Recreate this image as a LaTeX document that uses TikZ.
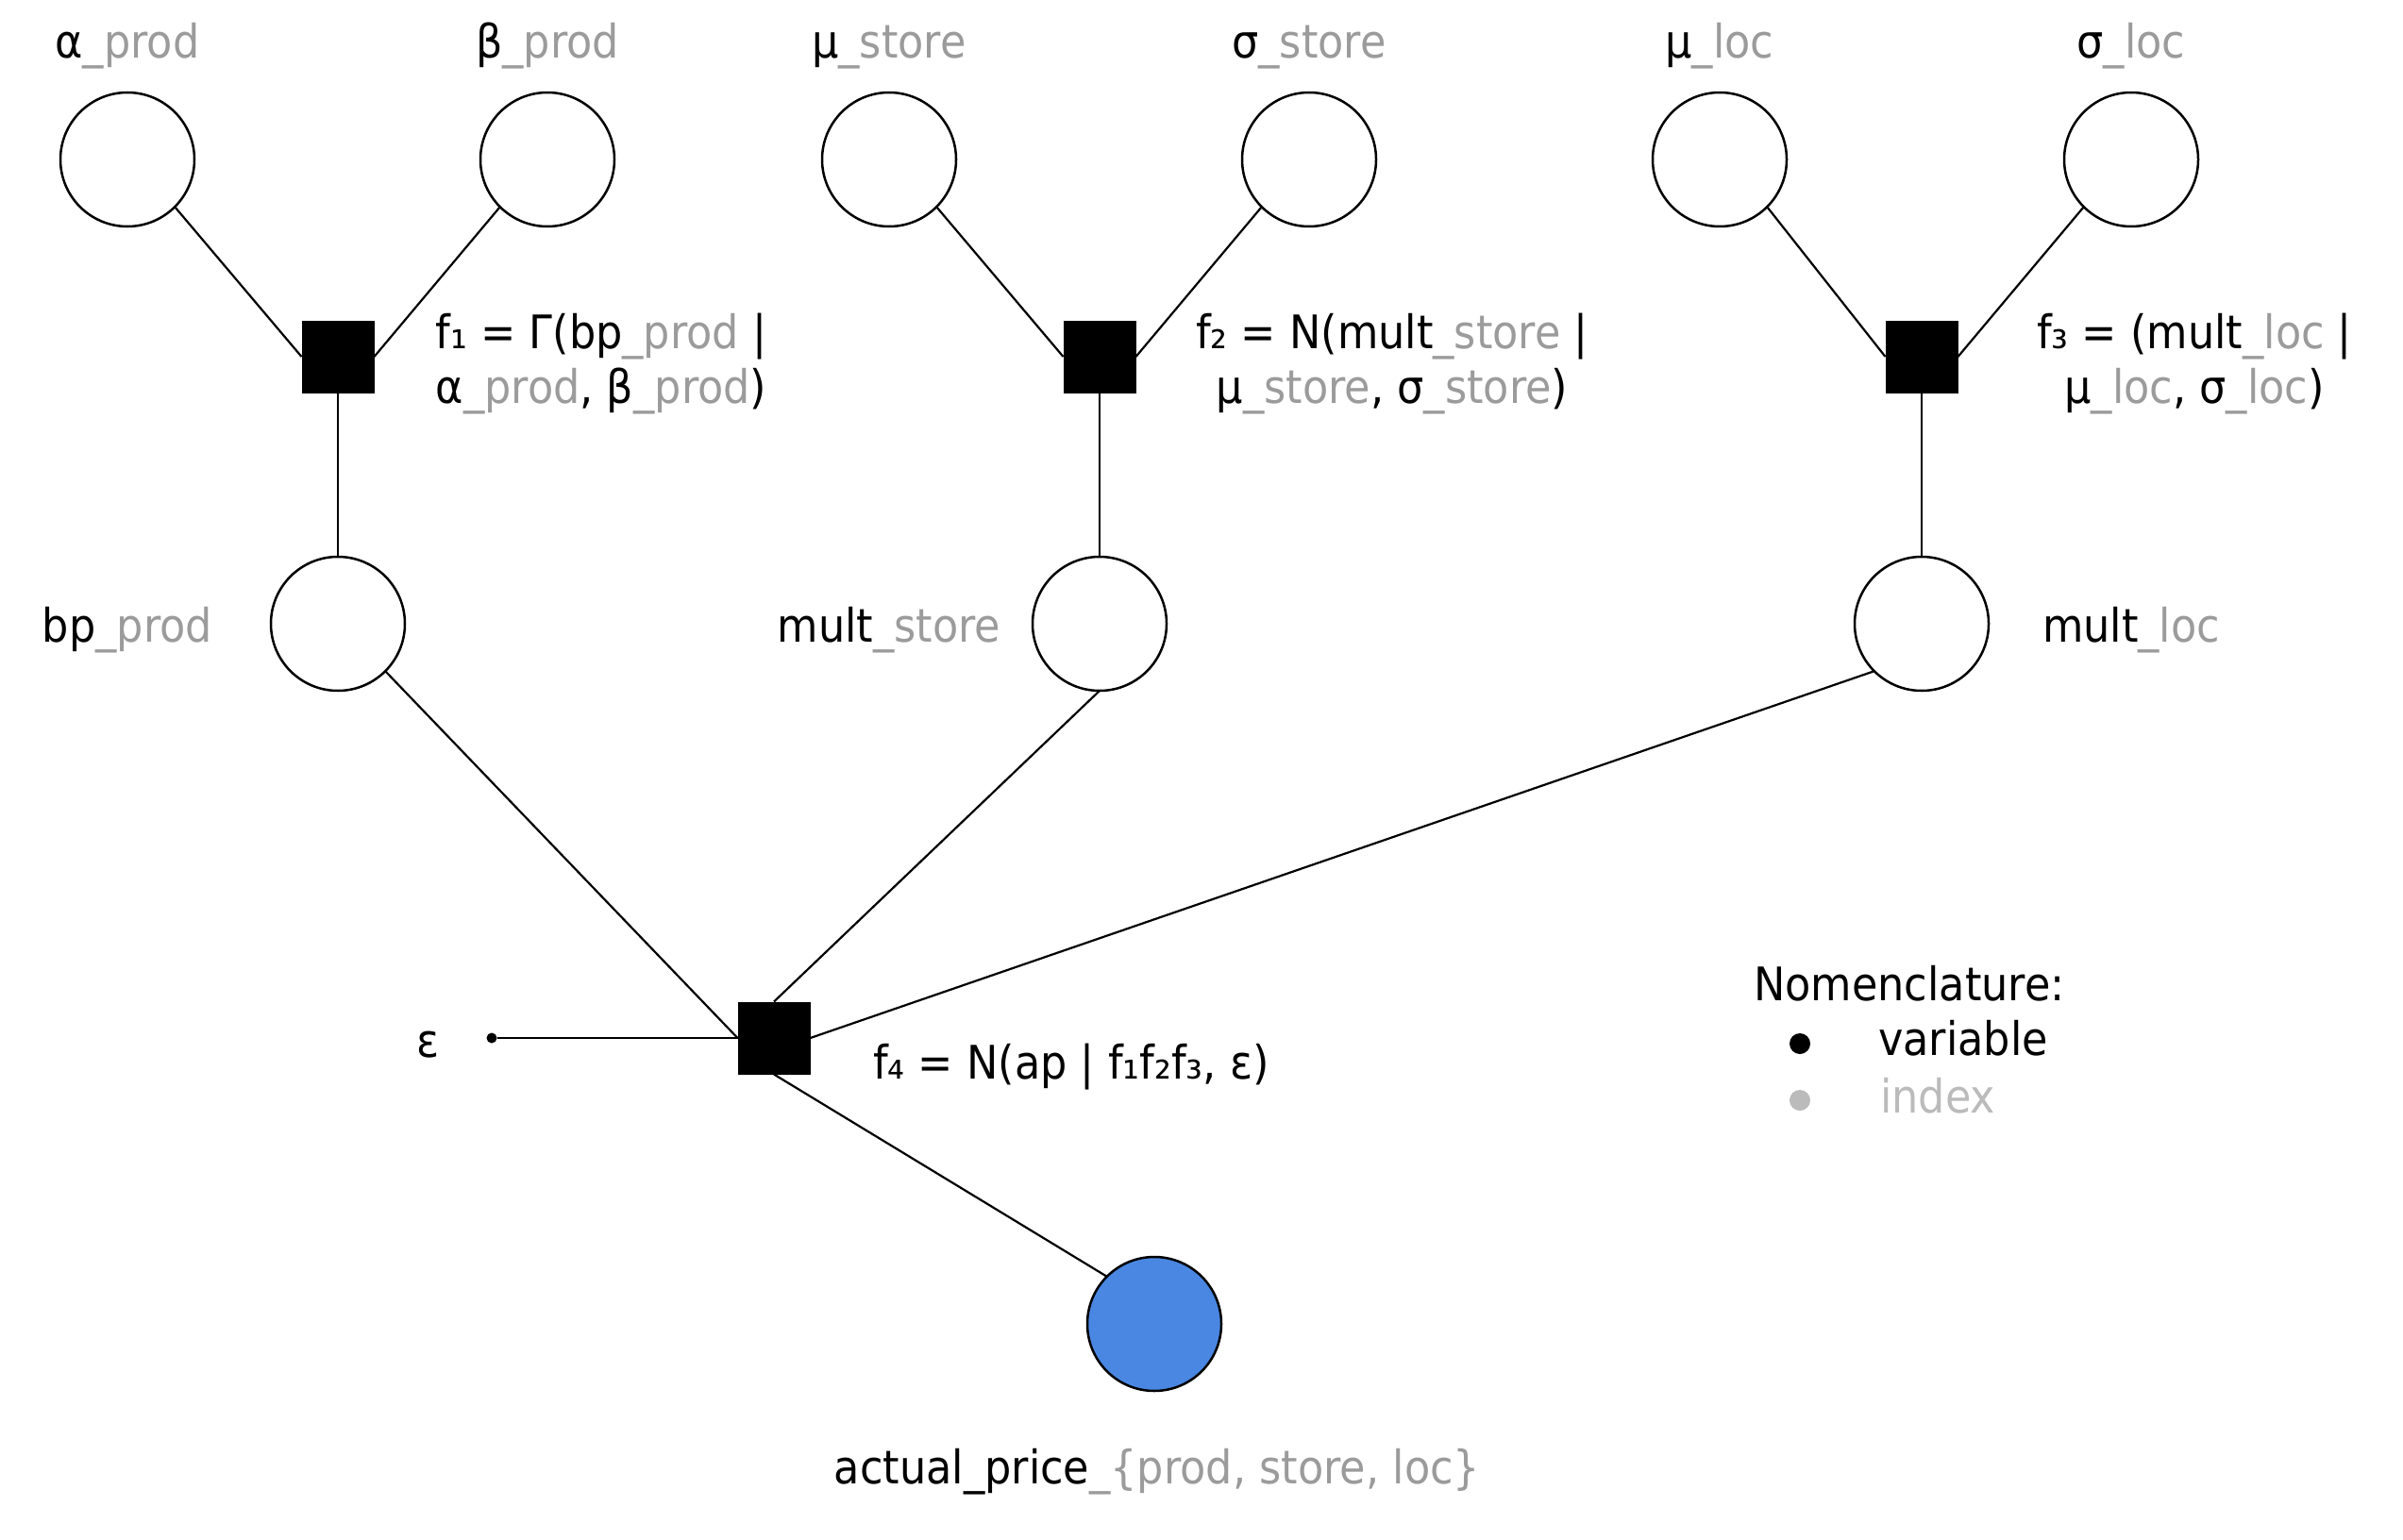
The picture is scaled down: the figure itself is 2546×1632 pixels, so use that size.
\documentclass[tikz,border=0pt]{standalone}
\usepackage{fontspec}
\setmainfont{DejaVu Sans}[FakeStretch=0.91]
\definecolor{idx}{RGB}{155,155,155}
\definecolor{idxlight}{RGB}{187,187,187}
\definecolor{obs}{RGB}{74,135,226}
\newcommand\gry[1]{\textcolor{idx}{#1}}
\begin{document}
\begin{tikzpicture}[x=1pt,y=-1pt,
  every node/.style={inner sep=0pt, outer sep=0pt},
  var/.style={circle, draw, line width=2.5pt, minimum size=142pt, fill=white},
  fac/.style={rectangle, fill=black, minimum size=77pt},
  obsvar/.style={var, fill=obs},
  lbl/.style={font=\fontsize{49}{58}\selectfont, anchor=base},
  link/.style={line width=2.2pt},
  bul/.style={circle, minimum size=22pt},
]
\path[use as bounding box] (0,0) rectangle (2546,1632);

% variables
\node[var] (aprod) at (135,169) {};
\node[var] (bprod) at (580,169) {};
\node[var] (mustore) at (942,169) {};
\node[var] (sgstore) at (1387,169) {};
\node[var] (muloc) at (1822,169) {};
\node[var] (sgloc) at (2258,169) {};
\node[fac] (f1) at (358,378) {};
\node[fac] (f2) at (1165,378) {};
\node[fac] (f3) at (2036,378) {};
\node[var] (bp) at (358,661) {};
\node[var] (mstore) at (1165,661) {};
\node[var] (mloc) at (2036,661) {};
\node[fac] (f4) at (820,1100) {};
\node[obsvar] (ap) at (1223,1403) {};
\node[circle, fill=black, minimum size=11pt] (eps) at (521,1100) {};

% labels
\node[lbl] (laprod) at (135,62) {α\gry{\_prod}};
\node[lbl] (lbprod) at (580,62) {β\gry{\_prod}};
\node[lbl] (lmustore) at (942,62) {μ\gry{\_store}};
\node[lbl] (lsgstore) at (1387,62) {σ\gry{\_store}};
\node[lbl] (lmuloc) at (1822,62) {μ\gry{\_loc}};
\node[lbl] (lsgloc) at (2258,62) {σ\gry{\_loc}};

\node[lbl, align=center] (lf1) at (637,427) {f₁ = Γ(bp\gry{\_prod} |\\α\gry{\_prod}, β\gry{\_prod})};
\node[lbl, align=center] (lf2) at (1475,427) {f₂ = N(mult\gry{\_store} |\\μ\gry{\_store}, σ\gry{\_store})};
\node[lbl, align=center] (lf3) at (2325,427) {f₃ = (mult\gry{\_loc} |\\μ\gry{\_loc}, σ\gry{\_loc})};

\node[lbl] (lbp) at (135,680) {bp\gry{\_prod}};
\node[lbl] (lmstore) at (942,680) {mult\gry{\_store}};
\node[lbl] (lmloc) at (2258,680) {mult\gry{\_loc}};

\node[lbl] (leps) at (454,1120) {ε};
\node[lbl, anchor=base west] (lf4) at (925,1143) {f₄ = N(ap | f₁f₂f₃, ε)};
\node[lbl] (lap) at (1226,1572) {actual\_price\gry{\_\{prod, store, loc\}}};

% legend
\node[lbl, anchor=base west] (nomen) at (1858,1060) {Nomenclature:};
\node[bul, fill=black] (bvar) at (1907,1106) {};
\node[lbl, anchor=base west] (lvar) at (1990,1118) {variable};
\node[bul, fill=idxlight] (bidx) at (1907,1166) {};
\node[lbl, anchor=base west, text=idxlight] (lidx) at (1992,1179) {index};

% connectors
\draw[link] (aprod.south east) -- (f1.west);
\draw[link] (bprod.south west) -- (f1.east);
\draw[link] (mustore.south east) -- (f2.west);
\draw[link] (sgstore.south west) -- (f2.east);
\draw[link] (muloc.south east) -- (f3.west);
\draw[link] (sgloc.south west) -- (f3.east);
\draw[link] (f1.south) -- (bp.north);
\draw[link] (f2.south) -- (mstore.north);
\draw[link] (f3.south) -- (mloc.north);
\draw[link] (bp.south east) -- (f4.west);
\draw[link] (mstore.south) -- (f4.north);
\draw[link] (mloc.south west) -- (f4.east);
\draw[link] (eps) -- (f4.west);
\draw[link] (f4.south) -- (ap.north west);
\end{tikzpicture}
\end{document}
